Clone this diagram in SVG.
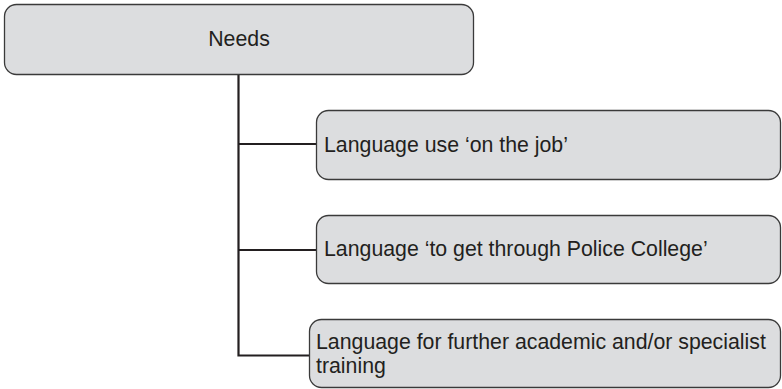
<svg xmlns="http://www.w3.org/2000/svg" width="782" height="389" viewBox="0 0 782 389">
<style>
.box{fill:#dcdddf;stroke:#3a3a3a;stroke-width:1.3}
.t{font-family:"Liberation Sans",Arial,sans-serif;font-size:21.3px;fill:#231f20}
.c{fill:none;stroke:#231f20;stroke-width:2.2}
</style>
<rect width="782" height="389" fill="#ffffff"/>
<g id="connectors">
<path class="c" d="M238.5,74 V355.5 H309"/>
<path class="c" d="M238.5,144 H316"/>
<path class="c" d="M238.5,250 H316"/>
</g>
<g id="needs">
<rect class="box" x="4.5" y="4.5" width="469" height="70" rx="12"/>
<text class="t" x="239" y="46" text-anchor="middle">Needs</text>
</g>
<g id="job">
<rect class="box" x="316.5" y="110.5" width="464" height="69" rx="12"/>
<text class="t" x="324" y="152">Language use ‘on the job’</text>
</g>
<g id="college">
<rect class="box" x="316.5" y="215.5" width="464" height="68" rx="12"/>
<text class="t" x="324" y="256">Language ‘to get through Police College’</text>
</g>
<g id="academic">
<rect class="box" x="309.5" y="319.5" width="471" height="68" rx="12"/>
<text class="t" x="316" y="349">Language for further academic and/or specialist</text>
<text class="t" x="316" y="373">training</text>
</g>
</svg>
